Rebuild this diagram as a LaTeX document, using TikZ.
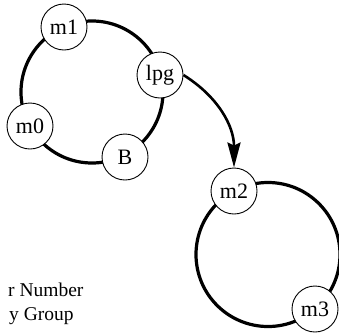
\documentclass[tikz,border=0pt]{standalone}
\usepackage{fontspec}
\setmainfont{Liberation Serif}
\usetikzlibrary{arrows.meta}
\begin{document}
\begin{tikzpicture}[x=1pt,y=-1pt,
  member/.style={circle,draw=black,line width=0.9pt,fill=white,minimum size=46pt,inner sep=0pt,font=\fontsize{22}{26}\selectfont},
  ring/.style={line width=3.2pt},
  link/.style={line width=2.6pt,-{Stealth[length=25pt,width=13pt,inset=3pt]}},
  legend/.style={anchor=base west,inner sep=0pt,font=\fontsize{19.5}{23}\selectfont}]
\useasboundingbox (0,0) rectangle (339,335);
\coordinate (c1) at (92,92);
\coordinate (c2) at (268,254.5);
\draw[ring] (c1) circle (71);
\draw[ring] (c2) circle (72);
\node[member] (m1) at (64,27) {m1};
\node[member] (lpg) at (160,75) {lpg};
\node[member] (m0) at (30,126) {m0};
\node[member] (B) at (125,157) {B};
\node[member] (m2) at (234,191) {m2};
\node[member] (m3) at (315,309) {m3};
\draw[link] (lpg.east) to[out=-32,in=90] (m2.north);
\node[legend] (l1) at (8,296) {r Number};
\node[legend] (l2) at (9,320) {y Group};
\end{tikzpicture}
\end{document}
